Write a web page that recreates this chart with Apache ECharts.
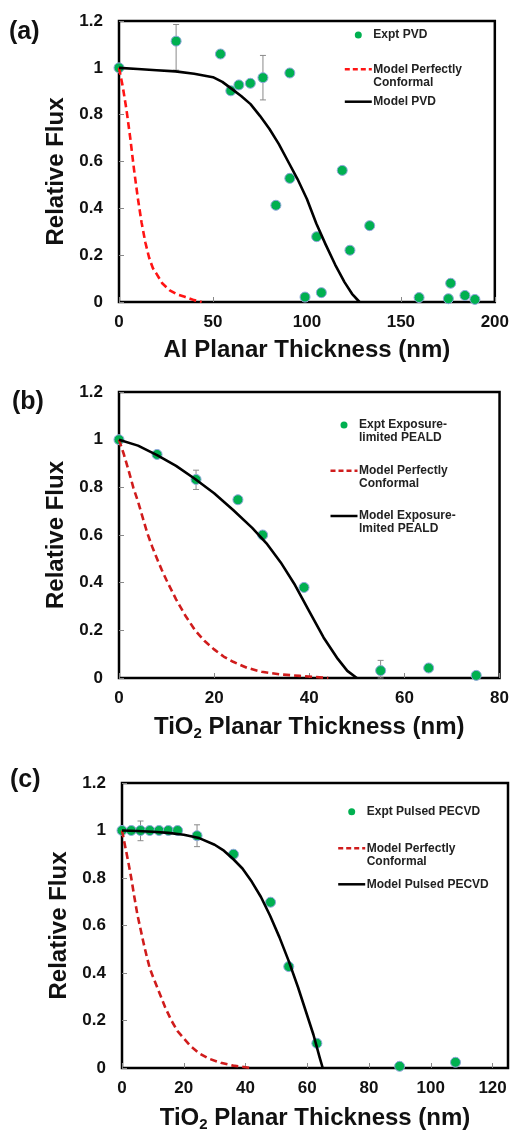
<!DOCTYPE html>
<html>
<head>
<meta charset="utf-8">
<title>Relative Flux</title>
<script src="https://cdn.jsdelivr.net/npm/echarts@6/dist/echarts.min.js"></script>
<style>
    html, body { margin: 0; padding: 0; background: #fff; }
    #chart { width: 512px; height: 1133px; }
</style>
</head>
<body>
<div id="chart"></div>
<script>
// ---- (a) Al PVD ----
var exptAx = [0, 30.4, 54, 59.5, 63.8, 69.9, 76.6, 90.9, 90.9, 83.5, 105.2, 118.8, 122.9, 133.4, 99, 107.7, 159.7, 175.3, 176.5, 184.1, 189.4];
var exptAy = [1.0, 1.114, 1.059, 0.902, 0.927, 0.934, 0.958, 0.978, 0.528, 0.413, 0.279, 0.562, 0.221, 0.326, 0.021, 0.040, 0.019, 0.014, 0.080, 0.028, 0.011];
// error bars: x, low, high
var errA = [[30.4, 0.99, 1.185], [76.6, 0.863, 1.053]];
var confAx = [0, 2, 4, 6, 8, 10, 12, 14, 16, 18, 20, 23, 27, 31, 35, 40, 44];
var confAy = [1, 0.92, 0.82, 0.7, 0.565, 0.445, 0.34, 0.255, 0.19, 0.145, 0.12, 0.08, 0.05, 0.032, 0.022, 0.008, 0];
var modelAx = [0, 10, 20, 30, 40, 50, 55, 60, 65, 70, 75, 80, 85, 90, 95, 100, 105, 110, 115, 120, 124, 128];
var modelAy = [1, 0.995, 0.99, 0.985, 0.975, 0.96, 0.94, 0.91, 0.88, 0.845, 0.795, 0.74, 0.675, 0.6, 0.525, 0.44, 0.335, 0.245, 0.16, 0.085, 0.035, 0];

// ---- (b) TiO2 exposure-limited PEALD ----
var exptBx = [0, 8, 16.2, 25, 30.2, 38.9, 55, 65.1, 75.1];
var exptBy = [1.0, 0.938, 0.833, 0.748, 0.600, 0.380, 0.031, 0.042, 0.011];
var errB = [[16.2, 0.791, 0.872], [55, 0, 0.074]];
var confBx = [0, 1, 2, 3, 4, 5, 6, 7, 8, 9, 10, 12, 14, 16, 18, 20, 22, 24, 27, 30, 34, 38, 44];
var confBy = [1, 0.94, 0.872, 0.8, 0.74, 0.672, 0.605, 0.55, 0.5, 0.453, 0.41, 0.33, 0.26, 0.2, 0.155, 0.12, 0.09, 0.068, 0.042, 0.026, 0.015, 0.009, 0];
var modelBx = [0, 4, 8, 12, 16, 20, 24, 28, 31, 34, 37, 40, 43, 46, 48, 50];
var modelBy = [1, 0.975, 0.935, 0.89, 0.835, 0.775, 0.705, 0.63, 0.565, 0.485, 0.39, 0.28, 0.17, 0.08, 0.03, 0];

// ---- (c) TiO2 pulsed PECVD ----
var exptCx = [0, 3, 6, 9, 12, 15, 18, 24.3, 36.1, 48.1, 54, 63.1, 89.9, 108];
var exptCy = [1, 1, 1, 1, 1, 1, 1, 0.978, 0.900, 0.698, 0.427, 0.104, 0.007, 0.024];
var errC = [[6, 0.957, 1.04], [24.3, 0.932, 1.024]];
var confCx = [0, 1, 2, 3, 4, 5, 6, 7, 8, 9, 10, 12, 14, 16, 18, 20, 22, 25, 28, 32, 36, 42];
var confCy = [1, 0.935, 0.87, 0.8, 0.72, 0.645, 0.585, 0.525, 0.47, 0.42, 0.385, 0.32, 0.255, 0.2, 0.155, 0.125, 0.095, 0.062, 0.04, 0.022, 0.01, 0];
var modelCx = [0, 5, 10, 15, 20, 25, 30, 33, 36, 39, 42, 45, 48, 51, 54, 57, 60, 62, 64, 65];
var modelCy = [1, 0.998, 0.995, 0.99, 0.982, 0.968, 0.94, 0.915, 0.88, 0.84, 0.785, 0.72, 0.64, 0.55, 0.45, 0.34, 0.22, 0.14, 0.045, 0];

var yTicks = [0, 1.2, 0.2];

(function () {
    var myChart = echarts.init(document.getElementById("chart"), null, { renderer: "canvas" });
    var font = "'Liberation Sans', Arial, sans-serif";
    var green = "#00b050";

    function zip(xs, ys) {
        return xs.map(function (x, i) { return [x, ys[i]]; });
    }

    // x axis for one panel
    function xAxisOf(i, max, step, name, gap) {
        return {
            type: "value", gridIndex: i, min: 0, max: max, interval: step,
            name: name, nameLocation: "middle", nameGap: gap,
            nameTextStyle: {
                fontFamily: font, fontWeight: "bold", fontSize: 24, color: "#111",
                rich: {
                    m: { fontFamily: font, fontWeight: "bold", fontSize: 24, color: "#111", lineHeight: 28 },
                    s: { fontFamily: font, fontWeight: "bold", fontSize: 15, color: "#111", lineHeight: 14, verticalAlign: "bottom" }
                }
            },
            axisLine: { show: false },
            axisTick: { inside: true, length: 5, lineStyle: { color: "#888", width: 1 } },
            axisLabel: {
                margin: 12, fontSize: 17, fontWeight: "bold", color: "#111", fontFamily: font,
                showMaxLabel: max % step === 0 ? null : false
            },
            splitLine: { show: false }
        };
    }

    // y axis for one panel
    function yAxisOf(i, pad) {
        return {
            type: "value", gridIndex: i, min: yTicks[0], max: yTicks[1], interval: yTicks[2],
            name: "Relative Flux", nameLocation: "middle", nameGap: 42,
            nameTextStyle: { fontFamily: font, fontWeight: "bold", fontSize: 24, color: "#111", padding: pad },
            axisLine: { show: false },
            axisTick: { inside: true, length: 5, lineStyle: { color: "#888", width: 1 } },
            axisLabel: { margin: 16, fontSize: 17, fontWeight: "bold", color: "#111", fontFamily: font },
            splitLine: { show: false }
        };
    }

    function scatterOf(i, xs, ys) {
        return {
            type: "scatter", xAxisIndex: i, yAxisIndex: i, z: 3,
            symbolSize: 10, data: zip(xs, ys),
            itemStyle: { color: green, borderColor: "#8fa6dc", borderWidth: 1, opacity: 1 }
        };
    }

    function lineOf(i, xs, ys, color, dashed) {
        return {
            type: "line", xAxisIndex: i, yAxisIndex: i, z: 4,
            showSymbol: false, smooth: false,
            data: zip(xs, ys),
            lineStyle: { color: color, width: 2.6, type: dashed ? [7, 4] : "solid", join: "round" }
        };
    }

    // gray error bars with caps
    function errorOf(i, rows) {
        return {
            type: "custom", xAxisIndex: i, yAxisIndex: i, z: 2,
            data: rows, encode: { x: 0, y: [1, 2] },
            renderItem: function (params, api) {
                var top = api.coord([api.value(0), api.value(2)]);
                var bot = api.coord([api.value(0), api.value(1)]);
                var st = { stroke: "#8a8a8a", lineWidth: 1 };
                return {
                    type: "group",
                    children: [
                        { type: "line", shape: { x1: top[0], y1: top[1], x2: bot[0], y2: bot[1] }, style: st },
                        { type: "line", shape: { x1: top[0] - 3, y1: top[1], x2: top[0] + 3, y2: top[1] }, style: st },
                        { type: "line", shape: { x1: bot[0] - 3, y1: bot[1], x2: bot[0] + 3, y2: bot[1] }, style: st }
                    ]
                };
            }
        };
    }

    // legend drawn by hand: icon column + text column
    function legendOf(cx, rows, dashColor) {
        var items = [];
        rows.forEach(function (r) {
            if (r.kind === "dot") {
                items.push({ type: "circle", shape: { cx: cx, cy: r.y, r: 3.5 }, style: { fill: green } });
            } else {
                items.push({
                    type: "line", shape: { x1: cx - 13.5, y1: r.y, x2: cx + 13.5, y2: r.y },
                    style: { stroke: r.kind === "dash" ? dashColor : "#000", lineWidth: 2.5, lineDash: r.kind === "dash" ? [5, 3] : null }
                });
            }
            items.push({
                type: "text", x: cx + 15, y: r.y - 6.5,
                style: { text: r.text, fontFamily: font, fontWeight: "bold", fontSize: 12, lineHeight: 13, fill: "#222", verticalAlign: "top" }
            });
        });
        return items;
    }

    function panelLabel(x, y, t) {
        return { type: "text", x: x, y: y, style: { text: t, fontFamily: font, fontWeight: "bold", fontSize: 25, fill: "#111", verticalAlign: "middle" } };
    }

    var redA = "#ff1414";
    var redBC = "#d01c1c";

    var graphics = [
        panelLabel(9, 32, "(a)"),
        panelLabel(12, 402, "(b)"),
        panelLabel(10, 780, "(c)")
    ].concat(
        legendOf(358.3, [
            { kind: "dot", y: 35, text: "Expt PVD" },
            { kind: "dash", y: 69.3, text: "Model Perfectly\nConformal" },
            { kind: "line", y: 101.7, text: "Model PVD" }
        ], redA),
        legendOf(344, [
            { kind: "dot", y: 425, text: "Expt Exposure-\nlimited PEALD" },
            { kind: "dash", y: 470.7, text: "Model Perfectly\nConformal" },
            { kind: "line", y: 516, text: "Model Exposure-\nlmited PEALD" }
        ], redBC),
        legendOf(351.7, [
            { kind: "dot", y: 811.7, text: "Expt Pulsed PECVD" },
            { kind: "dash", y: 848.3, text: "Model Perfectly\nConformal" },
            { kind: "line", y: 884.3, text: "Model Pulsed PECVD" }
        ], redBC)
    );

    var gridBase = { show: true, borderColor: "#000", borderWidth: 2.5, backgroundColor: "transparent" };

    var option = {
        backgroundColor: "#fff",
        animation: false,
        grid: [
            Object.assign({ left: 119, top: 21, width: 378, height: 281 }, gridBase),
            Object.assign({ left: 119, top: 392, width: 381, height: 286 }, gridBase),
            Object.assign({ left: 122, top: 783, width: 386, height: 289 }, gridBase)
        ],
        xAxis: [
            xAxisOf(0, 200, 50, "Al Planar Thickness (nm)", 36),
            xAxisOf(1, 80, 20, "{m|TiO}{s|2}{m| Planar Thickness (nm)}", 35),
            xAxisOf(2, 125, 20, "{m|TiO}{s|2}{m| Planar Thickness (nm)}", 36)
        ],
        yAxis: [
            yAxisOf(0, [0, 20, 0, 0]),
            yAxisOf(1, 0),
            yAxisOf(2, 0)
        ],
        series: [
            errorOf(0, errA),
            scatterOf(0, exptAx, exptAy),
            lineOf(0, confAx, confAy, redA, true),
            lineOf(0, modelAx, modelAy, "#000", false),

            errorOf(1, errB),
            scatterOf(1, exptBx, exptBy),
            lineOf(1, confBx, confBy, redBC, true),
            lineOf(1, modelBx, modelBy, "#000", false),

            errorOf(2, errC),
            scatterOf(2, exptCx, exptCy),
            lineOf(2, confCx, confCy, redBC, true),
            lineOf(2, modelCx, modelCy, "#000", false)
        ],
        graphic: graphics
    };

    myChart.setOption(option);
    window.addEventListener("resize", function () {
        myChart.resize();
    });
})();
</script>
</body>
</html>
